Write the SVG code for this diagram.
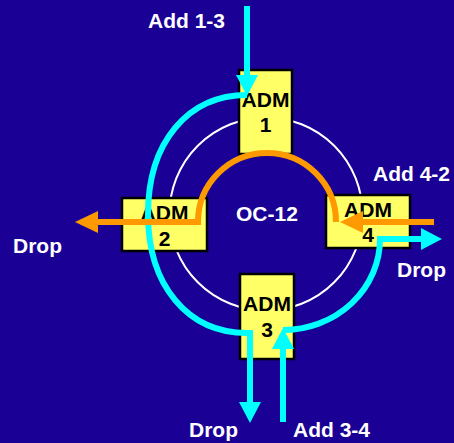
<svg xmlns="http://www.w3.org/2000/svg" width="454" height="443" viewBox="0 0 454 443">
<defs>
<style>
.bg{fill:#1a0094}
.ring{fill:none;stroke:#ffffff;stroke-width:2}
.box{fill:#ffff66;stroke:#000000;stroke-width:2.5}
.bt{font-family:"Liberation Sans",Arial,sans-serif;font-weight:bold;font-size:21px;fill:#000000;text-anchor:middle}
.lb{font-family:"Liberation Sans",Arial,sans-serif;font-weight:bold;font-size:21px;fill:#ffffff}
.cy{fill:none;stroke:#00ffff;stroke-width:6}
.or{fill:none;stroke:#ff9900;stroke-width:6}
</style>
<marker id="ac" viewBox="0 0 21 22" markerWidth="21" markerHeight="22" refX="0" refY="11" orient="auto" markerUnits="userSpaceOnUse"><path d="M0,0 L21,11 L0,22 Z" fill="#00ffff"/></marker>
<marker id="ao" viewBox="0 0 23 22" markerWidth="23" markerHeight="22" refX="0" refY="11" orient="auto" markerUnits="userSpaceOnUse"><path d="M0,0 L23,11 L0,22 Z" fill="#ff9900"/></marker>
</defs>
<rect class="bg" x="0" y="0" width="454" height="443"/>
<circle class="ring" cx="266" cy="214" r="96.5"/>
<g id="adm1"><rect class="box" x="239" y="70" width="53" height="84"/><text class="bt" x="265.5" y="107">ADM</text><text class="bt" x="265.5" y="132">1</text></g>
<g id="adm2"><rect class="box" x="122" y="198" width="85" height="53"/><text class="bt" x="164.5" y="219.5">ADM</text><text class="bt" x="164.5" y="245.5">2</text></g>
<g id="adm4"><rect class="box" x="326" y="195" width="84" height="53"/><text class="bt" x="368" y="216.5">ADM</text><text class="bt" x="368" y="241.5">4</text></g>
<g id="adm3"><rect class="box" x="240" y="274" width="54" height="85"/><text class="bt" x="267" y="311">ADM</text><text class="bt" x="267" y="337">3</text></g>
<g id="labels">
<text class="lb" x="148" y="28">Add 1-3</text>
<text class="lb" x="373" y="181">Add 4-2</text>
<text class="lb" x="397" y="277">Drop</text>
<text class="lb" x="13" y="253">Drop</text>
<text class="lb" x="236" y="221">OC-12</text>
<text class="lb" x="189" y="437">Drop</text>
<text class="lb" x="293" y="437">Add 3-4</text>
</g>
<g id="connectors">
<path class="cy" d="M247,6 V75" marker-end="url(#ac)"/>
<path class="cy" d="M247,95 C187.6,95 148,142.6 148,214 C148,285.4 187.6,333 247,333 L250,333 V402" marker-end="url(#ac)"/>
<path class="cy" d="M283,422 V349" marker-end="url(#ac)"/>
<path class="cy" d="M283,330 A97,91 0 0 0 380,239 H421" marker-end="url(#ac)"/>
<path class="or" d="M434,222 H363" marker-end="url(#ao)"/>
<path class="or" d="M336,222 A69,69 0 0 0 198,222 H98" marker-end="url(#ao)"/>
</g>
</svg>
